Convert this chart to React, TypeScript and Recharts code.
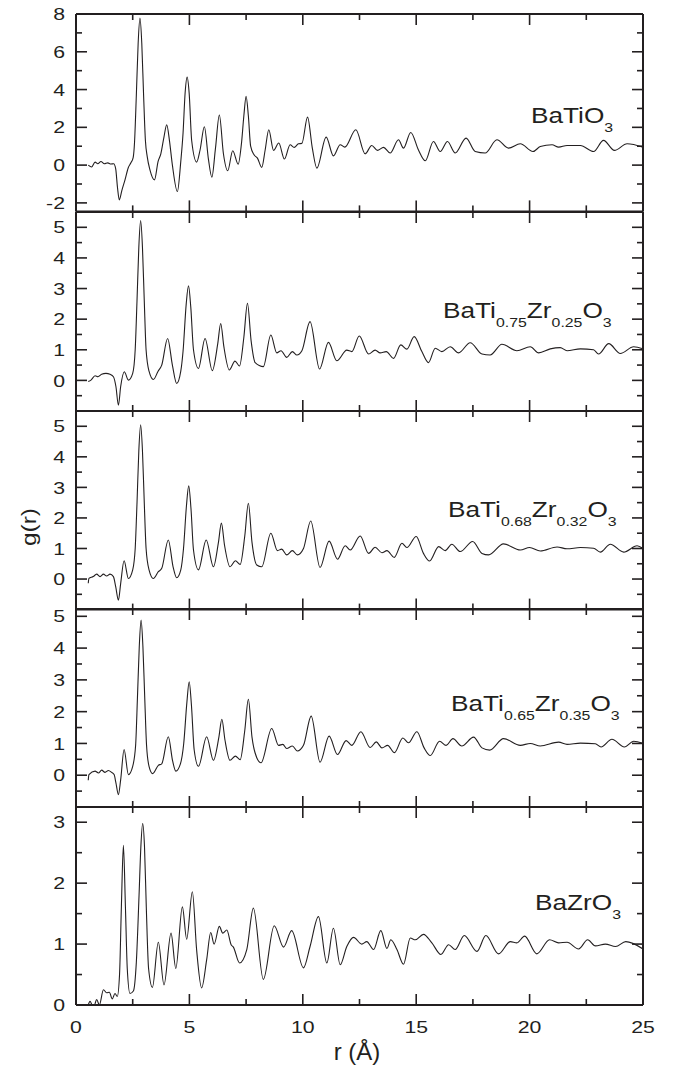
import React from "react";
import { LineChart, Line, XAxis, YAxis } from "recharts";

type Pt = [number, number];
type Part = [string, boolean];

const INK = "#231f20";
const FONT = "'Liberation Sans', Arial, Helvetica, sans-serif";

// r axis (Å)
const rTicks = [0, 2.5, 5, 7.5, 10, 12.5, 15, 17.5, 20, 22.5, 25];
const rLabels = [0, 5, 10, 15, 20, 25];

// g(r) axes, one per panel
const yDomains: [number, number][] = [
  [-2.45, 8],
  [-1, 5.5],
  [-1, 5.5],
  [-1, 5.23],
  [0, 3.25],
];
const yTicksTop = [-2, -1, 0, 1, 2, 3, 4, 5, 6, 7, 8];
const yLabelsTop = [-2, 0, 2, 4, 6, 8];
const yTicksMid = [-0.5, 0, 0.5, 1, 1.5, 2, 2.5, 3, 3.5, 4, 4.5, 5];
const yLabelsMid = [0, 1, 2, 3, 4, 5];
const yTicksLow = [0, 0.5, 1, 1.5, 2, 2.5, 3];
const yLabelsLow = [0, 1, 2, 3];

// panel names
const nameBaTiO3: Part[] = [["BaTiO", false], ["3", true]];
const nameZr25: Part[] = [["BaTi", false], ["0.75", true], ["Zr", false], ["0.25", true], ["O", false], ["3", true]];
const nameZr32: Part[] = [["BaTi", false], ["0.68", true], ["Zr", false], ["0.32", true], ["O", false], ["3", true]];
const nameZr35: Part[] = [["BaTi", false], ["0.65", true], ["Zr", false], ["0.35", true], ["O", false], ["3", true]];
const nameBaZrO3: Part[] = [["BaZrO", false], ["3", true]];

// g(r), [r, g]
const gBaTiO3: Pt[] = [
  [0.54, 0.0], [0.69, -0.1], [0.84, 0.16], [0.96, 0.07], [1.1, 0.19], [1.25, 0.07], [1.4, 0.12], [1.54, 0.06],
  [1.66, 0.07], [1.75, -0.2], [1.83, -1.2], [1.91, -1.84], [2.02, -1.35], [2.16, -0.78], [2.3, -0.15], [2.42, 0.12],
  [2.52, 0.4], [2.58, 1.2], [2.66, 3.7], [2.74, 6.45], [2.82, 7.79], [2.9, 6.45], [2.98, 3.7], [3.06, 1.3],
  [3.14, 0.45], [3.26, -0.25], [3.46, -0.78], [3.62, 0.2], [3.74, 0.6], [3.88, 1.5], [4.0, 2.14], [4.12, 1.3],
  [4.25, 0.0], [4.47, -1.4], [4.62, 0.2], [4.72, 1.7], [4.81, 3.8], [4.9, 4.66], [4.99, 3.8], [5.1, 1.3],
  [5.32, 0.16], [5.47, 0.8], [5.66, 2.03], [5.84, 0.3], [5.99, -0.64], [6.15, 0.9], [6.32, 2.65], [6.5, 0.6],
  [6.69, -0.3], [6.91, 0.76], [7.15, 0.05], [7.3, 1.2], [7.4, 2.6], [7.5, 3.64], [7.6, 2.6], [7.7, 1.0],
  [7.85, 0.55], [8.0, 0.37], [8.19, -0.12], [8.34, 0.8], [8.5, 1.87], [8.71, 0.78], [8.94, 1.17], [9.19, 0.32],
  [9.44, 1.08], [9.62, 0.94], [9.81, 1.13], [9.96, 1.15], [10.21, 2.54], [10.42, 0.9], [10.62, -0.16], [11.03, 1.48],
  [11.35, 0.49], [11.65, 1.08], [11.85, 0.95], [12.34, 1.87], [12.75, 0.6], [13.04, 1.04], [13.29, 0.78], [13.56, 0.94],
  [13.85, 0.64], [14.22, 1.34], [14.44, 0.9], [14.76, 1.73], [15.1, 0.8], [15.4, 0.23], [15.76, 1.25], [16.06, 0.72],
  [16.38, 1.25], [16.72, 0.64], [17.2, 1.43], [17.6, 0.72], [18.04, 0.64], [18.56, 1.34], [19.07, 0.9], [19.59, 1.13],
  [20.15, 0.72], [20.47, 0.98], [20.99, 1.08], [21.28, 0.95], [21.65, 1.04], [22.24, 1.04], [22.82, 0.72], [23.26, 1.31],
  [23.74, 0.78], [24.3, 1.13], [25.0, 0.95],
];

const gZr25: Pt[] = [
  [0.54, -0.04], [0.66, 0.01], [0.84, 0.15], [0.97, 0.12], [1.13, 0.2], [1.32, 0.23], [1.5, 0.2], [1.65, 0.12],
  [1.76, -0.2], [1.87, -0.81], [1.97, -0.2], [2.13, 0.28], [2.31, 0.01], [2.5, 0.23], [2.61, 1.0], [2.69, 2.6],
  [2.77, 4.35], [2.85, 5.22], [2.93, 4.35], [3.01, 2.6], [3.09, 1.0], [3.22, 0.3], [3.41, 0.03], [3.62, 0.3],
  [3.78, 0.5], [4.04, 1.37], [4.25, 0.5], [4.44, -0.1], [4.62, 0.3], [4.72, 0.95], [4.86, 2.5], [4.96, 3.09],
  [5.06, 2.4], [5.18, 1.0], [5.4, 0.39], [5.69, 1.37], [6.01, 0.32], [6.25, 1.2], [6.38, 1.86], [6.52, 1.1],
  [6.76, 0.34], [7.01, 0.63], [7.21, 0.47], [7.4, 1.4], [7.56, 2.52], [7.72, 1.3], [7.9, 0.58], [8.26, 0.45],
  [8.59, 1.48], [8.85, 0.9], [9.04, 0.97], [9.29, 0.75], [9.54, 0.94], [9.74, 0.83], [9.96, 0.97], [10.32, 1.92],
  [10.74, 0.37], [11.13, 1.24], [11.5, 0.64], [11.94, 0.99], [12.16, 0.94], [12.49, 1.45], [12.9, 0.86], [13.19, 0.99],
  [13.41, 0.9], [13.68, 0.94], [14.0, 0.72], [14.32, 1.16], [14.59, 1.02], [14.91, 1.43], [15.25, 0.94], [15.54, 0.58],
  [15.84, 1.05], [16.13, 0.94], [16.5, 1.1], [16.87, 0.9], [17.38, 1.23], [17.9, 0.86], [18.26, 0.83], [18.78, 1.18],
  [19.44, 0.97], [20.03, 1.1], [20.4, 0.9], [20.91, 1.03], [21.35, 1.07], [21.65, 0.97], [22.24, 1.03], [22.82, 1.0],
  [23.04, 0.86], [23.49, 1.2], [24.0, 0.88], [24.59, 1.1], [25.0, 1.03],
];

const gZr32: Pt[] = [
  [0.54, -0.14], [0.57, 0.02], [0.76, 0.08], [0.91, 0.16], [1.06, 0.08], [1.21, 0.16], [1.35, 0.1], [1.5, 0.16],
  [1.65, 0.08], [1.75, -0.25], [1.87, -0.69], [1.97, -0.14], [2.12, 0.6], [2.31, 0.02], [2.5, 0.3], [2.61, 1.0],
  [2.69, 2.5], [2.77, 4.2], [2.85, 5.05], [2.93, 4.2], [3.01, 2.5], [3.09, 1.0], [3.22, 0.3], [3.41, 0.02],
  [3.63, 0.24], [3.78, 0.35], [4.07, 1.28], [4.28, 0.4], [4.44, 0.04], [4.62, 0.3], [4.74, 1.0], [4.87, 2.4],
  [4.97, 3.05], [5.07, 2.3], [5.18, 0.95], [5.4, 0.3], [5.74, 1.28], [6.06, 0.4], [6.28, 1.2], [6.41, 1.83],
  [6.55, 1.1], [6.79, 0.4], [7.03, 0.6], [7.24, 0.48], [7.44, 1.4], [7.6, 2.48], [7.76, 1.2], [7.97, 0.46],
  [8.19, 0.4], [8.59, 1.5], [8.88, 0.93], [9.07, 0.98], [9.29, 0.79], [9.54, 0.93], [9.76, 0.79], [10.03, 1.0],
  [10.35, 1.9], [10.76, 0.38], [11.16, 1.24], [11.53, 0.65], [11.87, 1.09], [12.09, 0.95], [12.53, 1.41], [12.9, 0.84],
  [13.19, 1.04], [13.49, 0.86], [13.71, 0.93], [14.03, 0.71], [14.37, 1.17], [14.59, 1.03], [15.0, 1.39], [15.32, 0.84],
  [15.59, 0.59], [15.99, 1.06], [16.28, 0.93], [16.57, 1.14], [16.94, 0.9], [17.49, 1.23], [17.9, 0.84], [18.19, 0.79],
  [18.85, 1.15], [19.59, 0.95], [20.0, 1.03], [20.47, 0.92], [21.21, 1.05], [21.65, 0.99], [22.24, 1.03], [22.82, 1.01],
  [23.12, 0.88], [23.56, 1.14], [24.15, 0.88], [24.74, 1.09], [25.0, 1.0],
];

const gZr35: Pt[] = [
  [0.54, -0.16], [0.57, 0.02], [0.84, 0.13], [0.99, 0.07], [1.13, 0.16], [1.28, 0.09], [1.43, 0.15], [1.57, 0.09],
  [1.68, 0.02], [1.76, -0.24], [1.87, -0.61], [1.97, -0.14], [2.12, 0.81], [2.31, 0.02], [2.5, 0.28], [2.63, 0.95],
  [2.71, 2.45], [2.79, 4.05], [2.87, 4.88], [2.95, 4.05], [3.03, 2.45], [3.11, 0.95], [3.22, 0.28], [3.38, 0.05],
  [3.63, 0.31], [3.78, 0.36], [4.07, 1.21], [4.26, 0.45], [4.4, 0.13], [4.6, 0.35], [4.75, 1.0], [4.89, 2.3],
  [4.99, 2.94], [5.09, 2.2], [5.21, 0.8], [5.4, 0.28], [5.76, 1.21], [6.06, 0.47], [6.3, 1.2], [6.43, 1.76],
  [6.57, 1.1], [6.79, 0.47], [7.03, 0.6], [7.24, 0.49], [7.44, 1.4], [7.6, 2.39], [7.76, 1.2], [7.97, 0.55],
  [8.16, 0.39], [8.63, 1.47], [8.93, 0.94], [9.12, 0.97], [9.29, 0.84], [9.54, 0.92], [9.76, 0.76], [10.03, 0.94],
  [10.37, 1.86], [10.76, 0.41], [11.16, 1.23], [11.53, 0.65], [11.91, 1.09], [12.16, 0.94], [12.56, 1.37], [12.97, 0.87],
  [13.24, 1.05], [13.49, 0.86], [13.74, 0.94], [14.04, 0.71], [14.41, 1.17], [14.66, 1.02], [15.03, 1.37], [15.35, 0.86],
  [15.62, 0.62], [16.03, 1.07], [16.32, 0.94], [16.62, 1.15], [17.01, 0.92], [17.53, 1.2], [17.9, 0.86], [18.24, 0.79],
  [18.85, 1.15], [19.59, 0.94], [20.03, 1.0], [20.47, 0.92], [21.28, 1.04], [21.65, 0.97], [22.24, 1.01], [22.9, 0.99],
  [23.15, 0.89], [23.63, 1.13], [24.18, 0.89], [24.59, 1.07], [25.0, 1.0],
];

const gBaZrO3: Pt[] = [
  [0.54, 0.0], [0.62, 0.06], [0.72, 0.0], [0.81, 0.0], [0.91, 0.09], [1.03, 0.0], [1.21, 0.25], [1.35, 0.2],
  [1.47, 0.21], [1.6, 0.1], [1.72, 0.19], [1.82, 0.14], [1.92, 0.5], [2.0, 1.6], [2.09, 2.62], [2.18, 1.6],
  [2.26, 0.6], [2.38, 0.19], [2.53, 0.23], [2.66, 0.7], [2.78, 1.8], [2.86, 2.6], [2.94, 2.98], [3.02, 2.6],
  [3.1, 1.6], [3.2, 0.6], [3.37, 0.29], [3.63, 1.03], [3.88, 0.33], [4.19, 1.18], [4.4, 0.6], [4.69, 1.61],
  [4.88, 1.08], [5.13, 1.86], [5.32, 0.9], [5.54, 0.28], [5.76, 0.74], [5.94, 1.19], [6.09, 1.0], [6.32, 1.29],
  [6.47, 1.18], [6.65, 1.23], [6.84, 0.99], [6.94, 0.95], [7.21, 0.69], [7.53, 0.91], [7.82, 1.59], [8.26, 0.42],
  [8.74, 1.3], [9.15, 0.95], [9.51, 1.22], [10.03, 0.61], [10.32, 0.96], [10.69, 1.45], [11.06, 0.69], [11.35, 1.26],
  [11.65, 0.66], [11.94, 0.96], [12.24, 1.11], [12.6, 1.0], [12.82, 1.04], [13.12, 0.91], [13.44, 1.22], [13.71, 0.93],
  [13.88, 1.07], [14.15, 0.91], [14.44, 0.67], [14.74, 1.1], [14.96, 1.07], [15.32, 1.16], [15.69, 1.02], [16.09, 0.83],
  [16.43, 0.99], [16.72, 0.91], [17.12, 1.14], [17.68, 0.88], [18.07, 1.14], [18.63, 0.84], [19.15, 1.04], [19.44, 1.02],
  [19.78, 1.13], [20.32, 0.84], [20.88, 1.07], [21.28, 1.02], [21.65, 1.03], [22.16, 0.92], [22.56, 1.07], [22.9, 0.97],
  [23.34, 1.0], [23.79, 0.96], [24.24, 1.04], [25.0, 0.92],
];

// layout
const W = 679;
const H = 1071;
const PLOT_L = 76;
const PLOT_R = 643;
const PAD = 12;
const edges = [14.3, 211.7, 410.7, 609.3, 807.3, 1005.3];
const MAJOR = 11;
const MINOR = 6;
const frame = { stroke: INK, strokeWidth: 2 };

const has = (list: number[], v: number) => list.some((u) => Math.abs(u - v) < 1e-6);

const LeftTick = (props: any) => {
  const { x, y, payload, labels } = props;
  const major = has(labels, payload.value);
  return (
    <g>
      <line x1={x} y1={y} x2={x + (major ? MAJOR : MINOR)} y2={y} stroke={INK} strokeWidth={1.6} />
      {major && (
        <text
          transform={`translate(${x - 11} ${y}) scale(1.25 1)`}
          dy="0.36em"
          textAnchor="end"
          fontFamily={FONT}
          fontSize={17}
          fill={INK}
        >
          {payload.value}
        </text>
      )}
    </g>
  );
};

const RightTick = (props: any) => {
  const { x, y, payload, labels } = props;
  const major = has(labels, payload.value);
  return <line x1={x} y1={y} x2={x - (major ? MAJOR : MINOR)} y2={y} stroke={INK} strokeWidth={1.6} />;
};

const TopTick = (props: any) => {
  const { x, y, payload } = props;
  const major = has(rLabels, payload.value);
  return <line x1={x} y1={y} x2={x} y2={y + (major ? MAJOR : MINOR)} stroke={INK} strokeWidth={1.6} />;
};

const BottomTick = (props: any) => {
  const { x, y, payload, showLabel } = props;
  const major = has(rLabels, payload.value);
  return (
    <g>
      <line x1={x} y1={y} x2={x} y2={y - (major ? MAJOR : MINOR)} stroke={INK} strokeWidth={1.6} />
      {showLabel && major && (
        <text
          transform={`translate(${x} ${y + 27.5}) scale(1.25 1)`}
          textAnchor="middle"
          fontFamily={FONT}
          fontSize={17}
          fill={INK}
        >
          {payload.value}
        </text>
      )}
    </g>
  );
};

interface PanelProps {
  series: Pt[];
  domain: [number, number];
  ticks: number[];
  labels: number[];
  top: number;
  bottom: number;
  last?: boolean;
}

const Panel = ({ series, domain, ticks, labels, top, bottom, last }: PanelProps) => {
  const padBottom = last ? 66 : PAD;
  const rows = series.map(([r, g]) => ({ r, g }));
  return (
    <div style={{ position: "absolute", left: 0, top: top - PAD }}>
      <LineChart
        width={W}
        height={PAD + (bottom - top) + padBottom}
        data={rows}
        margin={{ top: PAD - 2, right: 0, bottom: padBottom - 2, left: 0 }}
      >
        <XAxis
          xAxisId="b"
          dataKey="r"
          type="number"
          domain={[0, 25]}
          ticks={rTicks}
          interval={0}
          height={2}
          tickSize={0}
          tickMargin={0}
          axisLine={frame}
          tickLine={false}
          allowDataOverflow
          tick={(p: any) => <BottomTick {...p} showLabel={!!last} />}
        />
        <XAxis
          xAxisId="t"
          orientation="top"
          dataKey="r"
          type="number"
          domain={[0, 25]}
          ticks={rTicks}
          interval={0}
          height={2}
          tickSize={0}
          tickMargin={0}
          axisLine={frame}
          tickLine={false}
          allowDataOverflow
          tick={(p: any) => <TopTick {...p} />}
        />
        <YAxis
          yAxisId="l"
          type="number"
          domain={domain}
          ticks={ticks}
          interval={0}
          width={PLOT_L}
          tickSize={0}
          tickMargin={0}
          axisLine={frame}
          tickLine={false}
          allowDataOverflow
          tick={(p: any) => <LeftTick {...p} labels={labels} />}
        />
        <YAxis
          yAxisId="r"
          orientation="right"
          type="number"
          domain={domain}
          ticks={ticks}
          interval={0}
          width={W - PLOT_R}
          tickSize={0}
          tickMargin={0}
          axisLine={frame}
          tickLine={false}
          allowDataOverflow
          tick={(p: any) => <RightTick {...p} labels={labels} />}
        />
        <Line
          xAxisId="b"
          yAxisId="l"
          dataKey="g"
          type="monotone"
          stroke={INK}
          strokeWidth={1.1}
          dot={false}
          isAnimationActive={false}
        />
      </LineChart>
    </div>
  );
};

const Formula = ({ parts, x, y }: { parts: Part[]; x: number; y: number }) => (
  <text transform={`translate(${x} ${y}) scale(1.22 1)`} fontFamily={FONT} fontSize={21.5} fill={INK}>
    {parts.map(([t, sub], i) => {
      const prevSub = i > 0 && parts[i - 1][1];
      const dy = sub && !prevSub ? 9 : !sub && prevSub ? -9 : 0;
      return (
        <tspan key={i} dy={dy} fontSize={sub ? 13 : 21.5}>
          {t}
        </tspan>
      );
    })}
  </text>
);

export default function App() {
  const panels = [
    { series: gBaTiO3, ticks: yTicksTop, labels: yLabelsTop },
    { series: gZr25, ticks: yTicksMid, labels: yLabelsMid },
    { series: gZr32, ticks: yTicksMid, labels: yLabelsMid },
    { series: gZr35, ticks: yTicksMid, labels: yLabelsMid },
    { series: gBaZrO3, ticks: yTicksLow, labels: yLabelsLow },
  ];
  const names = [nameBaTiO3, nameZr25, nameZr32, nameZr35, nameBaZrO3];
  const namePos = [
    [531, 122.7],
    [443, 318.3],
    [448, 517.3],
    [451, 710.7],
    [535, 910],
  ];
  return (
    <div style={{ position: "absolute", left: 0, top: 0, width: W, height: H, background: "#fff" }}>
      {panels.map((p, i) => (
        <Panel
          key={i}
          series={p.series}
          domain={yDomains[i]}
          ticks={p.ticks}
          labels={p.labels}
          top={edges[i]}
          bottom={edges[i + 1]}
          last={i === panels.length - 1}
        />
      ))}
      <svg width={W} height={H} style={{ position: "absolute", left: 0, top: 0, pointerEvents: "none" }}>
        {names.map((parts, i) => (
          <Formula key={i} parts={parts} x={namePos[i][0]} y={namePos[i][1]} />
        ))}
        <text
          transform="translate(36 527) rotate(-90) scale(1.22 1)"
          textAnchor="middle"
          fontFamily={FONT}
          fontSize={20}
          fill={INK}
        >
          g(r)
        </text>
        <text x={357} y={1060} textAnchor="middle" fontFamily={FONT} fontSize={24} fill={INK}>
          r (Å)
        </text>
      </svg>
    </div>
  );
}
